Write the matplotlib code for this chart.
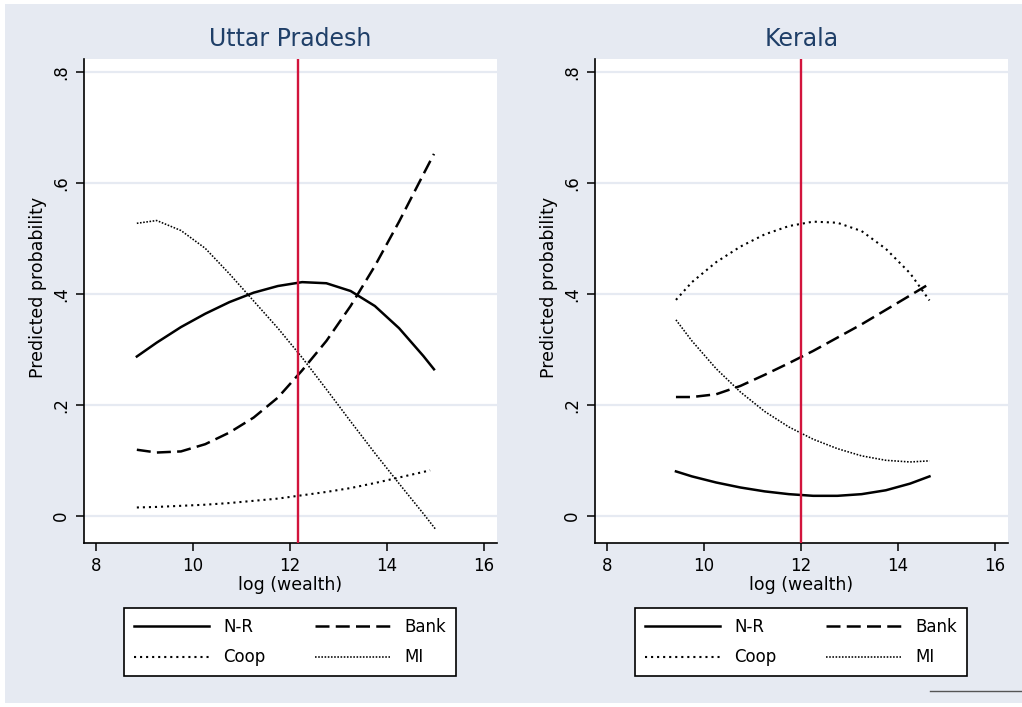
import numpy as np
import matplotlib
matplotlib.use("Agg")
import matplotlib.pyplot as plt
from matplotlib.lines import Line2D
from matplotlib.patches import Rectangle

# ---- data ----
# Uttar Pradesh
up_x = [8.84, 9.25, 9.75, 10.25, 10.75, 11.25, 11.75, 12.25, 12.75, 13.25, 13.75, 14.25, 14.75, 14.97]
up_nr = [0.287, 0.312, 0.340, 0.364, 0.385, 0.402, 0.414, 0.421, 0.419, 0.405, 0.378, 0.338, 0.288, 0.264]
up_bank = [0.119, 0.114, 0.116, 0.129, 0.150, 0.177, 0.213, 0.262, 0.315, 0.378, 0.450, 0.530, 0.615, 0.652]
up_mi_x = [8.84, 9.25, 9.75, 10.25, 10.75, 11.25, 11.75, 12.25, 12.75, 13.25, 13.75, 14.25, 14.75, 15.01]
up_mi = [0.527, 0.532, 0.514, 0.482, 0.436, 0.387, 0.338, 0.285, 0.228, 0.170, 0.113, 0.058, 0.004, -0.025]
up_coop_x = [8.84, 9.25, 9.75, 10.25, 10.75, 11.25, 11.75, 12.25, 12.75, 13.25, 13.75, 14.25, 14.75, 14.89]
up_coop = [0.015, 0.016, 0.018, 0.020, 0.023, 0.027, 0.031, 0.037, 0.043, 0.050, 0.059, 0.069, 0.079, 0.082]
up_vline = 12.16

# Kerala
ke_x = [9.42, 9.75, 10.25, 10.75, 11.25, 11.75, 12.25, 12.75, 13.25, 13.75, 14.25, 14.65]
ke_nr = [0.080, 0.071, 0.060, 0.051, 0.044, 0.039, 0.036, 0.036, 0.039, 0.046, 0.058, 0.071]
ke_bank = [0.214, 0.214, 0.219, 0.234, 0.254, 0.275, 0.297, 0.321, 0.345, 0.371, 0.397, 0.418]
ke_coop = [0.389, 0.421, 0.457, 0.485, 0.507, 0.522, 0.530, 0.528, 0.513, 0.481, 0.437, 0.388]
ke_mi = [0.353, 0.315, 0.265, 0.223, 0.188, 0.160, 0.138, 0.121, 0.108, 0.100, 0.097, 0.099]
ke_vline = 12.0

xticks = [8, 10, 12, 14, 16]
yticks = [0, 0.2, 0.4, 0.6, 0.8]
ytick_labels = ["0", ".2", ".4", ".6", ".8"]
titles = ["Uttar Pradesh", "Kerala"]

BG = "#e6eaf2"
TITLE_COL = "#1f3f68"
RED = "#d2143c"

plt.rcParams["font.family"] = "DejaVu Sans"

fig = plt.figure(figsize=(10.22, 7.07), dpi=100, facecolor="white")
fig.patches.append(Rectangle((5 / 1022, 1 - 703 / 707), 1 - 5 / 1022, 699 / 707,
                             transform=fig.transFigure, facecolor=BG,
                             edgecolor="none", zorder=-10))

styles = {
    "N-R": dict(color="black", lw=1.8, linestyle="-"),
    "Bank": dict(color="black", lw=1.8, linestyle=(0, (5.6, 2.5))),
    "Coop": dict(color="black", lw=1.5, linestyle=(0, (1, 1.9))),
    "MI": dict(color="black", lw=1.15, linestyle=(0, (1, 1.0))),
}


def style_axes(ax, title):
    ax.set_facecolor("white")
    ax.set_xlim(7.75, 16.27)
    ax.set_ylim(-0.049, 0.823)
    ax.set_xticks(xticks)
    ax.set_yticks(yticks)
    ax.set_yticklabels(ytick_labels, rotation=90, va="center")
    ax.tick_params(axis="both", labelsize=12, length=6, width=1.1, pad=4, direction="out")
    for s in ["top", "right"]:
        ax.spines[s].set_visible(False)
    for s in ["left", "bottom"]:
        ax.spines[s].set_linewidth(1.2)
    ax.grid(axis="y", color=BG, lw=1.6)
    ax.set_axisbelow(True)
    ax.set_title(title, fontsize=17, color=TITLE_COL, pad=9)
    ax.set_xlabel("log (wealth)", fontsize=12.5)
    ax.set_ylabel("Predicted probability", fontsize=12.5)
    ax.xaxis.label.set_va("center")
    ax.yaxis.label.set_va("center")
    ax.xaxis.set_label_coords(0.5, -0.087)
    ax.yaxis.set_label_coords(-0.111, 0.528)


left = fig.add_axes([84 / 1022, 1 - 543 / 707, 413 / 1022, 484 / 707])
right = fig.add_axes([595 / 1022, 1 - 543 / 707, 413 / 1022, 484 / 707])

style_axes(left, titles[0])
left.plot(up_x, up_nr, **styles["N-R"])
left.plot(up_x, up_bank, **styles["Bank"])
left.plot(up_coop_x, up_coop, **styles["Coop"])
left.plot(up_mi_x, up_mi, **styles["MI"])
left.axvline(up_vline, color=RED, lw=1.7, zorder=5)

style_axes(right, titles[1])
right.plot(ke_x, ke_nr, **styles["N-R"])
right.plot(ke_x, ke_bank, **styles["Bank"])
right.plot(ke_x, ke_coop, **styles["Coop"])
right.plot(ke_x, ke_mi, **styles["MI"])
right.axvline(ke_vline, color=RED, lw=1.7, zorder=5)

for ax in (left, right):
    handles = [Line2D([], [], **styles["N-R"]), Line2D([], [], **styles["Coop"]),
               Line2D([], [], **styles["Bank"]), Line2D([], [], **styles["MI"])]
    labels = ["N-R", "Coop", "Bank", "MI"]
    leg = ax.legend(handles, labels, ncol=2, loc="upper left",
                    bbox_to_anchor=(0.097, -0.134, 0.804, 0.0), mode="expand",
                    borderaxespad=0, fancybox=False, framealpha=1,
                    edgecolor="black", facecolor="white", fontsize=12,
                    handlelength=4.5, handletextpad=0.85, labelspacing=0.75,
                    borderpad=0.6)
    leg.get_frame().set_linewidth(1.2)

# stray footer mark at bottom right
fig.add_artist(Line2D([930 / 1022, 1.0], [1 - 691 / 707] * 2, transform=fig.transFigure,
                      color="#555555", lw=1.0))

fig.savefig("out.png", dpi=100, facecolor="white")
